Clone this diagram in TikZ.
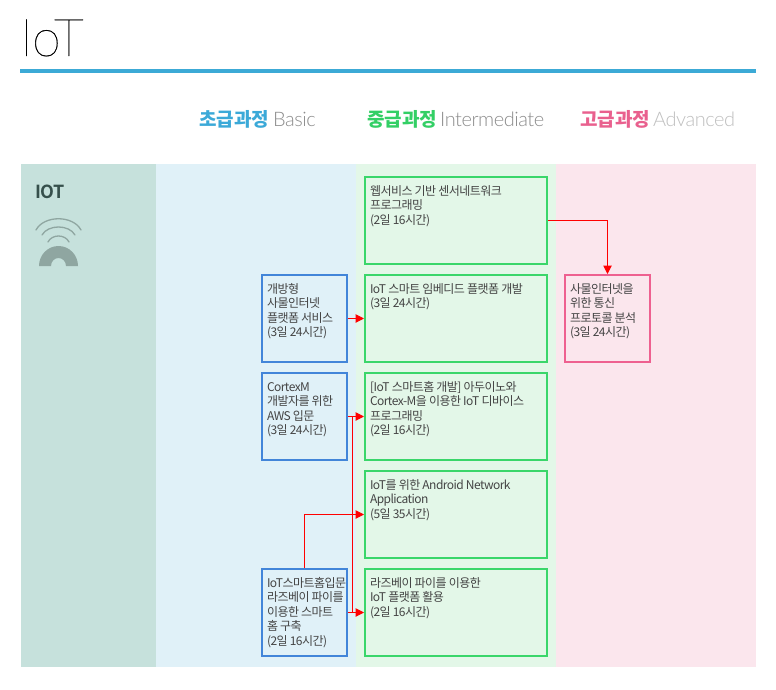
\documentclass[tikz,border=0pt]{standalone}
\usepackage{fontspec}
\usetikzlibrary{arrows.meta}
\setmainfont{Noto Sans CJK KR}
\newfontfamily\kr[LetterSpace=-4.5]{Noto Sans CJK KR}
\newfontfamily\tightbold[LetterSpace=-4]{Noto Sans CJK KR Bold}
\newfontfamily\titlefont[FakeBold=0.5]{Lato Thin}
\newfontfamily\headlight[LetterSpace=-2.3]{Lato Light}
\definecolor{tealbg}{HTML}{C6E1DC}
\definecolor{bluebg}{HTML}{E0F1F8}
\definecolor{greenbg}{HTML}{E3F7E8}
\definecolor{pinkbg}{HTML}{FBE6ED}
\definecolor{blueline}{HTML}{4285D9}
\definecolor{greenline}{HTML}{3AD66A}
\definecolor{pinkline}{HTML}{EE6090}
\definecolor{rulecol}{HTML}{3CAAD6}
\definecolor{headblue}{HTML}{3BA9D8}
\definecolor{headgreen}{HTML}{33CF65}
\definecolor{headpink}{HTML}{E9608E}
\definecolor{icon}{HTML}{8FA6A1}
\definecolor{txt}{HTML}{444444}
\definecolor{iotcol}{HTML}{36504C}
\newcommand{\boxtxt}[3]{\parbox[c][#2pt][t]{#1pt}{\kr\fontsize{12pt}{14.5pt}\selectfont\color{txt}\raggedright\leftskip=5pt\rightskip=-10pt\rule{0pt}{18pt}#3}}
\tikzset{
  course/.style={draw,line width=2pt,inner sep=0pt,outer sep=1pt,anchor=north west,fill=none},
  greenbox/.style={course,draw=greenline},
  bluebox/.style={course,draw=blueline},
  pinkbox/.style={course,draw=pinkline},
  link/.style={draw=red,line width=1pt,-{Triangle[length=8.5pt,width=8.5pt]}},
  plainlink/.style={draw=red,line width=1pt},
  headb/.style={anchor=base west,inner sep=0pt,font=\fontsize{19pt}{19pt}\selectfont\bfseries},
  headl/.style={anchor=base west,inner sep=0pt,font=\headlight\fontsize{20pt}{20pt}\selectfont},
  wave/.style={draw=icon,line width=1.3pt,line cap=round}
}
\begin{document}
\begin{tikzpicture}[x=1pt,y=-1pt]
\useasboundingbox (0,0) rectangle (776,690);
\fill[white] (0,0) rectangle (776,690);
% title
\node[anchor=base west,inner sep=0pt,font=\titlefont\fontsize{52pt}{52pt}\selectfont] (title) at (20,56) {IoT};
\fill[rulecol] (20,69) rectangle (756,73);
% headings
\node[headb,text=headblue] (h1) at (199,127) {초급과정};
\node[headl,text=black!45] (h1e) at (273,127) {Basic};
\node[headb,text=headgreen] (h2) at (367,127) {중급과정};
\node[headl,text=black!45] (h2e) at (440,127) {Intermediate};
\node[headb,text=headpink] (h3) at (580,127) {고급과정};
\node[headl,text=black!25] (h3e) at (653,127) {Advanced};
% bands
\fill[tealbg] (21,164) rectangle (156,667);
\fill[bluebg] (156,164) rectangle (356,667);
\fill[greenbg] (356,164) rectangle (556,667);
\fill[pinkbg] (556,164) rectangle (756,667);
% side label
\node[anchor=base west,inner sep=0pt,text=iotcol,font=\tightbold\fontsize{18pt}{18pt}\selectfont] (iot) at (35,198.5) {IOT};
\draw[wave] (36,230) .. controls (44,215) and (73,215) .. (81,230);
\draw[wave] (42,235) .. controls (48,224.3) and (69,224.3) .. (75,235);
\draw[wave] (48,242) .. controls (52,234) and (65,234) .. (69,242);
\fill[icon] (39,266) arc[start angle=180,end angle=0,x radius=19.5,y radius=-20] -- (66,266) arc[start angle=0,end angle=180,x radius=7.5,y radius=-8] -- cycle;
% intermediate
\node[greenbox] (g1) at (364,176) {\boxtxt{182}{87}{웹서비스 기반 센서네트워크\\프로그래밍\\(2일 16시간)}};
\node[greenbox] (g2) at (364,274) {\boxtxt{182}{87}{IoT 스마트 임베디드 플랫폼 개발\\(3일 24시간)}};
\node[greenbox] (g3) at (364,372) {\boxtxt{182}{87}{[IoT 스마트홈 개발] 아두이노와\\Cortex-M을 이용한 IoT 디바이스\\프로그래밍\\(2일 16시간)}};
\node[greenbox] (g4) at (364,470) {\boxtxt{182}{87}{IoT를 위한 Android Network\\Application\\(5일 35시간)}};
\node[greenbox] (g5) at (364,568) {\boxtxt{182}{87}{라즈베이 파이를 이용한\\IoT 플랫폼 활용\\(2일 16시간)}};
% basic
\node[bluebox] (b1) at (261,274) {\boxtxt{85}{87}{개방형\\사물인터넷\\플랫폼 서비스\\(3일 24시간)}};
\node[bluebox] (b2) at (261,372) {\boxtxt{85}{87}{CortexM\\개발자를 위한\\AWS 입문\\(3일 24시간)}};
\node[bluebox] (b3) at (261,568) {\boxtxt{85}{87}{IoT스마트홈입문\\라즈베이 파이를\\이용한 스마트\\홈 구축\\(2일 16시간)}};
% advanced
\node[pinkbox] (p1) at (564,274) {\boxtxt{85}{87}{사물인터넷을\\위한 통신\\프로토콜 분석\\(3일 24시간)}};
% connectors
\draw[link] (g1.east) -| (p1.north);
\draw[link] (b1.east) -- (g2.west);
\draw[link] (b2.east) -- (g3.west);
\draw[link] (b3.east) -- (g5.west);
\draw[link] (b3.north) |- (g4.west);
\coordinate (j1) at (352,416.5);
\coordinate (j2) at (352,612.5);
\draw[plainlink] (j1) -- (j2);
\end{tikzpicture}
\end{document}
